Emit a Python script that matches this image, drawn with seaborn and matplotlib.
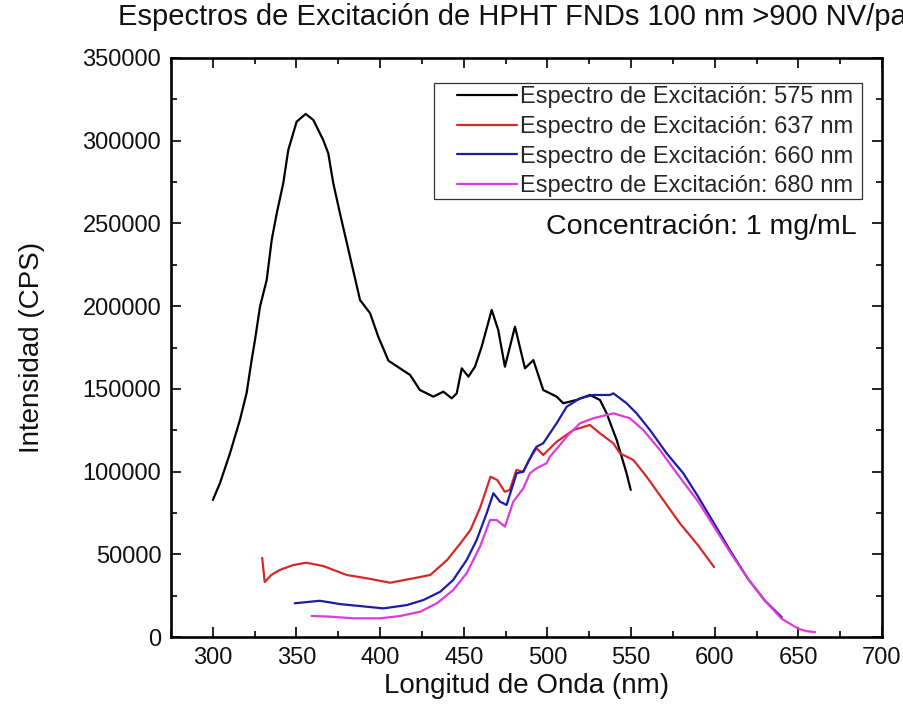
import numpy as np
import pandas as pd
import matplotlib
matplotlib.use("Agg")
import matplotlib.pyplot as plt
from matplotlib.patches import Rectangle
from matplotlib.ticker import MultipleLocator
import seaborn as sns

# ---------------- data ----------------
wl_575 = [300, 304.3, 310.3, 316.2, 320.2, 323.2, 325.2, 328.2, 332.2, 335.2, 338.2, 342.1,
          345.1, 350.1, 355.5, 360.1, 366.0, 369.0, 372.0, 376.0, 382.0, 388.0, 394.0, 398.9,
          405.0, 411.9, 417.9, 423.8, 431.8, 437.8, 442.8, 445.8, 448.8, 452.8, 456.7, 460.7,
          466.7, 470.6, 474.6, 480.6, 486.6, 491.6, 497.5, 505.5, 509.5, 517.5, 525.4, 531.4,
          535.4, 541.4, 547.3, 549.8]
int_575 = [82800, 93100, 111200, 131200, 147500, 167400, 179500, 199700, 215800, 240000, 256100, 274300,
           294400, 311500, 316200, 312500, 300400, 292400, 274300, 256100, 229900, 203700, 195700, 181500,
           167000, 162400, 158400, 149300, 145300, 148300, 144300, 147300, 162400, 157400, 163400, 175500,
           197700, 185600, 163400, 187600, 162400, 167400, 149300, 145300, 141300, 143300, 146300, 143300,
           135200, 119100, 99000, 88900]

wl_637 = [329.5, 331, 335, 340, 348, 356, 366, 380, 392, 406, 420, 430, 440, 448, 454, 460, 466,
          470, 474.5, 477.5, 481.5, 485.5, 489, 493.5, 497.5, 505.5, 515.5, 525.4, 531.4, 539.4,
          543.4, 551.4, 559.3, 579.2, 590, 599.6]
int_637 = [47800, 33200, 37500, 40500, 43500, 44900, 42900, 37500, 35500, 32800, 35500, 37500, 46500,
           56600, 64700, 78800, 96900, 94900, 87800, 88900, 101000, 99900, 107000, 114100, 110000,
           118000, 125100, 128200, 123100, 117100, 111000, 107000, 96900, 68700, 55500, 42300]

wl_660 = [349, 364, 376, 388, 402, 416, 426, 436, 443.7, 451.7, 457.7, 463.7, 467.7, 471.7, 475.6,
          481.6, 485.6, 491.6, 493.5, 497.5, 505.5, 511.5, 519.5, 527.4, 537.4, 539.4, 547.3, 553.3,
          561.3, 571.3, 581.2, 590, 600, 610, 620, 630, 640]
int_660 = [20400, 21900, 19900, 18700, 17300, 19300, 22400, 27400, 34500, 46500, 58600, 74800, 86900,
           81800, 79800, 99000, 99900, 112000, 115000, 117100, 129200, 139200, 144300, 146300, 146300,
           147300, 141300, 135200, 125100, 111000, 99000, 85000, 68000, 51000, 35000, 22000, 12000]

wl_680 = [359, 370, 384, 400, 412, 424, 434, 443.7, 451.7, 459.7, 465.7, 469.7, 474.6, 479.6, 485.6,
          489.6, 493.5, 499.5, 501.5, 507.5, 511.5, 519.5, 527.4, 539.4, 549.3, 557.3, 567.3, 577.3,
          590, 600, 610, 620, 630, 640, 650, 655, 660]
int_680 = [12700, 12300, 11300, 11300, 12700, 15300, 20400, 28400, 38500, 54600, 70700, 70700, 66700,
           81800, 89900, 99000, 102000, 105000, 109000, 116100, 121100, 129200, 132200, 135200, 132200,
           125100, 113000, 99000, 82000, 66000, 50000, 35000, 22000, 11000, 5000, 3500, 3000]

labels = ["Espectro de Excitación: 575 nm", "Espectro de Excitación: 637 nm",
          "Espectro de Excitación: 660 nm", "Espectro de Excitación: 680 nm"]
colors = ["#000000", "#d42a2a", "#1c1ca8", "#dd3bdd"]

title = "Espectros de Excitación de HPHT FNDs 100 nm >900 NV/partícula"
xlabel = "Longitud de Onda (nm)"
ylabel = "Intensidad (CPS)"
note = "Concentración: 1 mg/mL"

frames = []
for lab, w, v in zip(labels, [wl_575, wl_637, wl_660, wl_680], [int_575, int_637, int_660, int_680]):
    frames.append(pd.DataFrame({"wl": w, "intensity": v, "serie": lab}))
df = pd.concat(frames, ignore_index=True)

# ---------------- style ----------------
sns.set_theme(style="ticks")
plt.rcParams["font.family"] = ["Liberation Sans", "DejaVu Sans"]

fig = plt.figure(figsize=(9.04, 7.21), dpi=100)
ax = fig.add_axes([171 / 904, 1 - 637 / 721, 711 / 904, 579 / 721])

sns.lineplot(data=df, x="wl", y="intensity", hue="serie", hue_order=labels,
             palette=colors, sort=False, estimator=None, lw=1.6, legend=False, ax=ax)

ax.set_xlim(275, 700)
ax.set_ylim(0, 350000)
ax.xaxis.set_major_locator(MultipleLocator(50))
ax.xaxis.set_minor_locator(MultipleLocator(25))
ax.yaxis.set_major_locator(MultipleLocator(50000))
ax.yaxis.set_minor_locator(MultipleLocator(25000))
ax.set_xticks([300, 350, 400, 450, 500, 550, 600, 650, 700])

ax.tick_params(which="both", direction="in", top=True, right=True, color="black", width=1.2)
ax.tick_params(which="major", length=7, labelsize=17, pad=7, labelcolor="#111111")
ax.tick_params(which="minor", length=4)
for s in ax.spines.values():
    s.set_linewidth(1.9)
    s.set_color("black")

ax.set_xlabel(xlabel, fontsize=20, labelpad=3, color="#111111")
ax.set_ylabel(ylabel, fontsize=20, labelpad=27, color="#111111")

fig.text(118 / 904, 1 - 17 / 721, title, ha="left", va="center", fontsize=21, color="#111111")

# legend box and entries
ax.add_patch(Rectangle((0.370, 0.7565), 0.602, 0.2003, transform=ax.transAxes,
                       fill=True, facecolor="white", edgecolor="#333333", lw=0.9, zorder=3))
leg = ax.legend(handles=ax.get_lines()[:4], labels=labels, loc="upper right",
                bbox_to_anchor=(0.960, 0.9516), frameon=False, fontsize=17,
                borderpad=0, labelspacing=0.33, handlelength=2.55, handletextpad=0.15,
                borderaxespad=0)
leg.set_zorder(4)

ax.text(0.965, 0.708, note, transform=ax.transAxes, ha="right", va="center",
        fontsize=20.5, color="#111111")

fig.savefig("out.png", dpi=100)
